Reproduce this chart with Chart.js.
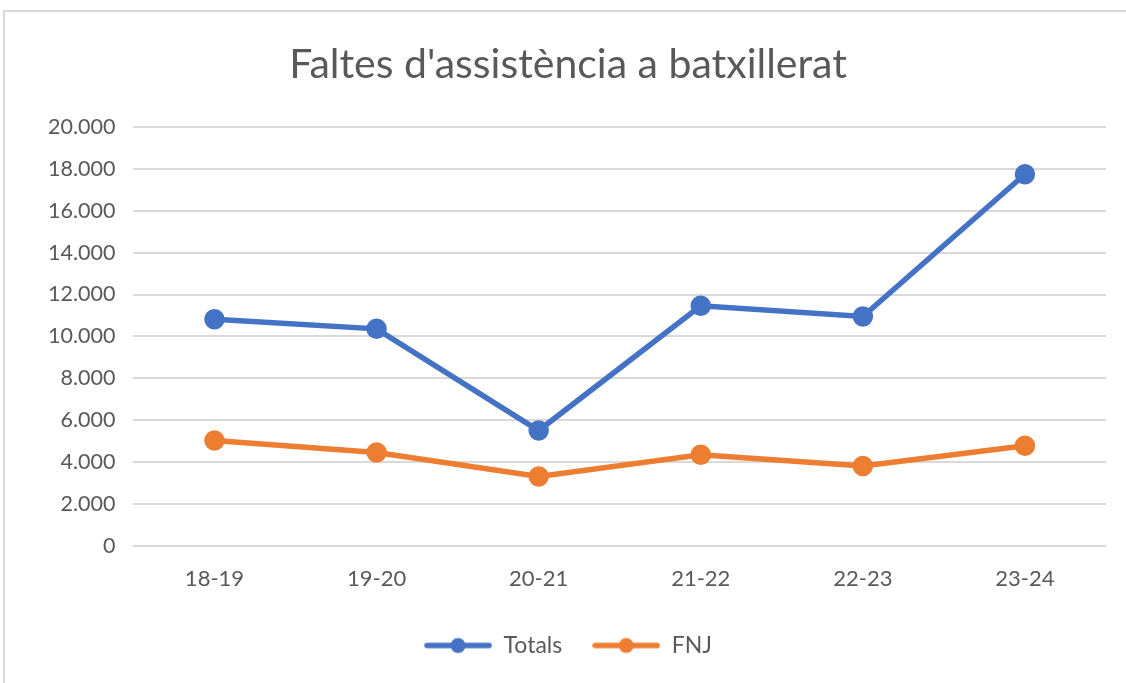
<!DOCTYPE html>
<html>
<head>
<meta charset="utf-8">
<script src="https://cdn.jsdelivr.net/npm/chart.js"></script>
<style>
  body { margin: 0; background: #fff; }
  #frame { position: absolute; left: 3px; top: 10px; width: 1140px; height: 700px; border: 2px solid #d9d9d9; box-sizing: border-box; }
  #wrap { position: absolute; left: 0; top: 0; width: 1126px; height: 683px; }
</style>
</head>
<body>
<div id="frame"></div>
<div id="wrap"><canvas id="chart"></canvas></div>
<script>
// Data
const cursos = ['18-19', '19-20', '20-21', '21-22', '22-23', '23-24'];
const totals = [10820, 10360, 5500, 11460, 10950, 17750];
const fnj = [5020, 4450, 3300, 4340, 3810, 4770];
const yTicks = [0, 2000, 4000, 6000, 8000, 10000, 12000, 14000, 16000, 18000, 20000];

const BLUE = '#4472C4';
const ORANGE = '#ED7D31';
const TEXT = '#595959';
const FONT = 'Lato, "Open Sans", sans-serif';

// thousands separator with a dot, as in Catalan
function formatNum(v) {
    return String(v).replace(/\B(?=(\d{3})+(?!\d))/g, '.');
}

// legend icon: line with a dot in the middle
function legendIcon(color) {
    const c = document.createElement('canvas');
    c.width = 68; c.height = 18;
    const g = c.getContext('2d');
    g.strokeStyle = color;
    g.lineWidth = 5.5;
    g.lineCap = 'round';
    g.beginPath();
    g.moveTo(3, 9); g.lineTo(65, 9);
    g.stroke();
    g.fillStyle = color;
    g.beginPath();
    g.arc(34, 9, 7.5, 0, Math.PI * 2);
    g.fill();
    return c;
}
const icons = [legendIcon(BLUE), legendIcon(ORANGE)];

const ctx = document.getElementById('chart').getContext('2d');
new Chart(ctx, {
    type: 'line',
    data: {
        labels: cursos,
        datasets: [
            { label: 'Totals', data: totals, borderColor: BLUE, backgroundColor: BLUE, borderWidth: 5.5, pointRadius: 7.5, pointHoverRadius: 7.5, tension: 0 },
            { label: 'FNJ', data: fnj, borderColor: ORANGE, backgroundColor: ORANGE, borderWidth: 5.5, pointRadius: 7.5, pointHoverRadius: 7.5, tension: 0 }
        ]
    },
    options: {
        responsive: true,
        maintainAspectRatio: false,
        animation: false,
        layout: { padding: { left: 30, right: 20, top: 40, bottom: 16 } },
        plugins: {
            title: {
                display: true,
                text: "Faltes d'assistència a batxillerat",
                color: TEXT,
                font: { family: FONT, size: 41, weight: 'normal' },
                padding: { top: 0, bottom: 38 }
            },
            legend: {
                position: 'bottom',
                labels: {
                    color: TEXT,
                    font: { family: FONT, size: 23 },
                    usePointStyle: true,
                    pointStyleWidth: 68,
                    boxHeight: 18,
                    padding: 30,
                    generateLabels: chart => Chart.defaults.plugins.legend.labels.generateLabels(chart).map((l, i) => {
                        l.pointStyle = icons[i];
                        return l;
                    })
                }
            },
            tooltip: { enabled: false }
        },
        scales: {
            x: {
                offset: true,
                grid: { display: false },
                border: { display: false },
                ticks: { color: TEXT, font: { family: FONT, size: 22 }, padding: 12 }
            },
            y: {
                min: 0,
                max: 20000,
                afterBuildTicks: scale => { scale.ticks = yTicks.map(v => ({ value: v })); },
                grid: { color: '#d9d9d9', lineWidth: 2, drawTicks: false },
                border: { display: false },
                ticks: { color: TEXT, font: { family: FONT, size: 21.5 }, padding: 18, callback: v => formatNum(v) }
            }
        }
    }
});
</script>
</body>
</html>
